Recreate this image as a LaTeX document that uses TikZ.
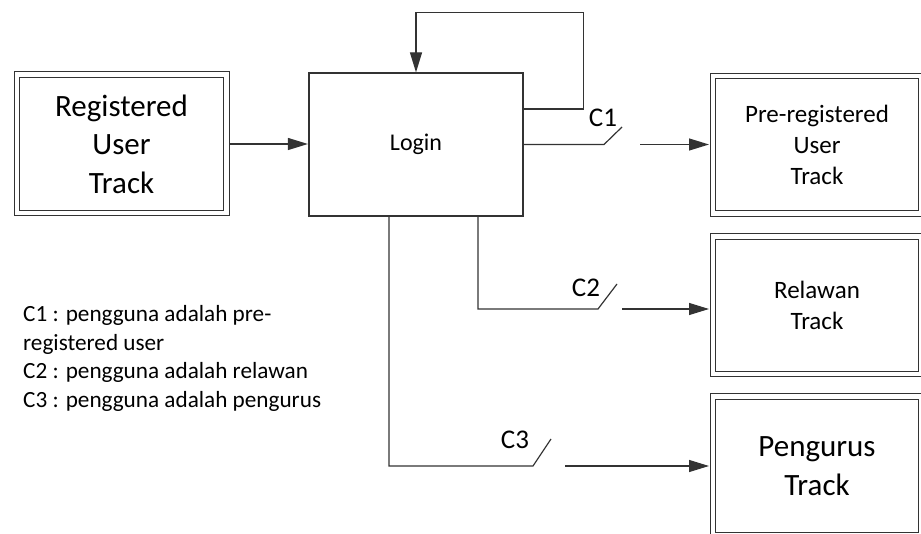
\documentclass[tikz,border=0pt]{standalone}
\usepackage{fontspec}
\setmainfont{Carlito}
\usetikzlibrary{arrows.meta}
\begin{document}
\begin{tikzpicture}[x=1pt,y=-1pt,
  ln/.style={draw=black!80, line width=1.2pt},
  arr/.style={ln, -{Triangle[length=20pt,width=12pt]}},
  dbl/.style={draw=black!80, line width=1pt,
    minimum width=214pt, minimum height=143pt, inner sep=0pt, align=center,
    append after command={
      \pgfextra{\draw[black!80, line width=1pt]
        ([shift={(6pt,-6pt)}]\tikzlastnode.north west) rectangle
        ([shift={(-6pt,6pt)}]\tikzlastnode.south east);}}},
  big/.style={font=\fontsize{31}{38.5}\selectfont},
  mid/.style={font=\fontsize{25}{31}\selectfont},
  lbl/.style={font=\fontsize{27}{32}\selectfont, inner sep=0pt},
]
\useasboundingbox (0,0) rectangle (921,534);
\node[dbl,big,minimum width=215pt,minimum height=144pt] (reg) at (121.5,144) {Registered\\User\\Track};
\node[ln, minimum width=214pt, minimum height=143pt, inner sep=0pt,
  font=\fontsize{24}{29}\selectfont] (login) at (416,144.5) {Login};
\node[dbl,mid] (pre) at (817,145) {Pre-registered\\User\\Track};
\node[dbl,mid] (rel) at (817,305.5) {Relawan\\Track};
\node[dbl,big,minimum height=144pt] (pen) at (817,466) {Pengurus\\Track};

% input
\draw[arr, shorten >=0.5pt] (reg.east) -- (reg.east -| login.west);
% loop
\draw[arr] ([yshift=35.5pt]login.east) -- ++(60,0) |- ([yshift=60pt]login.north) -- (login.north);

% C1
\coordinate (c1a) at (604,144.5);
\coordinate (c1b) at (622,127);
\coordinate (c1s) at (640,144.5);
\draw[ln] (login.east) -- (c1a) -- (c1b);
\draw[arr, shorten >=0.5pt] (c1s) -- (c1s -| pre.west);
\node[lbl] (c1) at (603,118) {C1};

% C2
\coordinate (c2a) at (598,309);
\coordinate (c2b) at (617,284);
\coordinate (c2s) at (622,309);
\draw[ln] ([xshift=62pt]login.south) |- (c2a) -- (c2b);
\draw[arr, shorten >=0.5pt] (c2s) -- (c2s -| rel.west);
\node[lbl] (c2) at (586,288) {C2};

% C3
\coordinate (c3a) at (533,466);
\coordinate (c3b) at (551,439);
\coordinate (c3s) at (565,466);
\draw[ln] ([xshift=-27pt]login.south) |- (c3a) -- (c3b);
\draw[arr, shorten >=0.5pt] (c3s) -- (c3s -| pen.west);
\node[lbl] (c3) at (515,440) {C3};

% legend
\node[anchor=base west, align=left, inner sep=0pt,
  font=\fontsize{23.2}{28.5}\selectfont] (legend) at (23,407.5)
  {C1 : pengguna adalah pre-\\registered user\\C2 : pengguna adalah relawan\\C3 : pengguna adalah pengurus};
\end{tikzpicture}
\end{document}
